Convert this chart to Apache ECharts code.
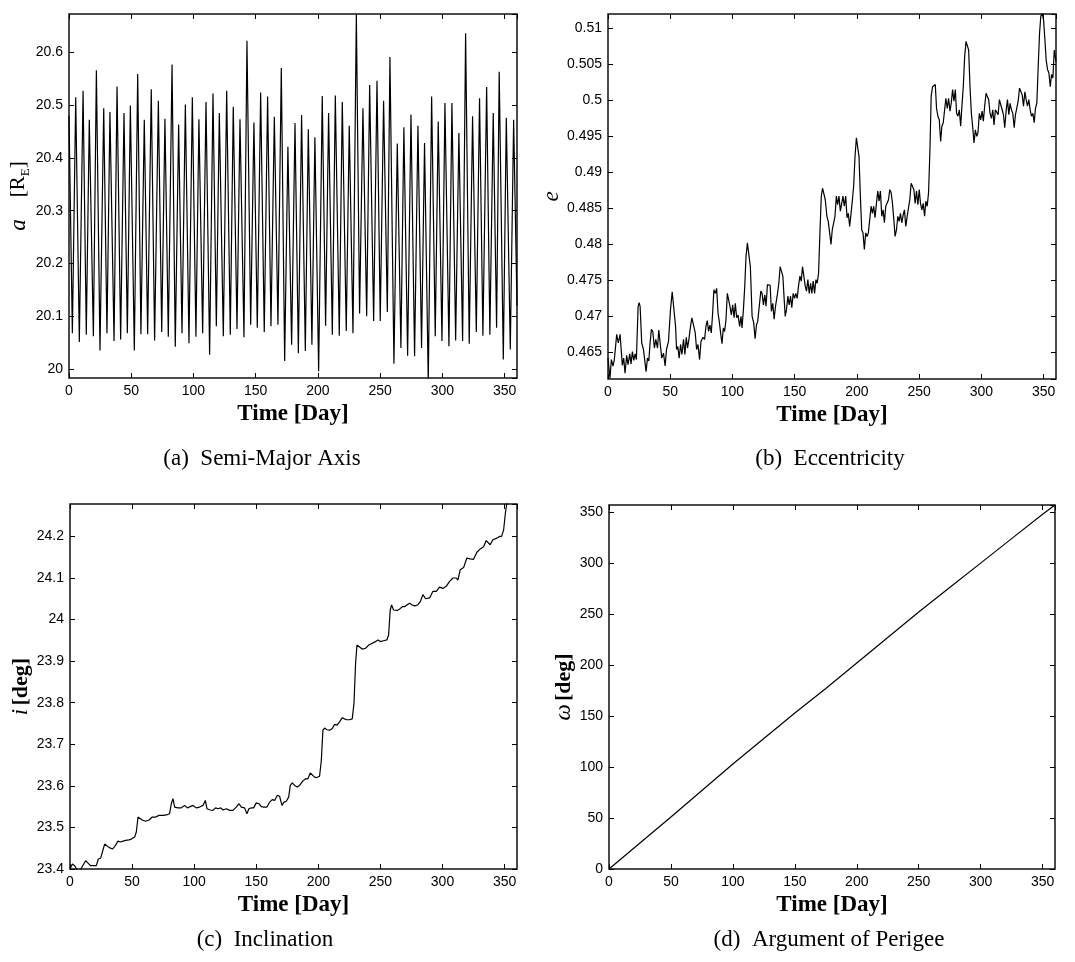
<!DOCTYPE html>
<html>
<head>
<meta charset="utf-8">
<script src="https://cdn.jsdelivr.net/npm/echarts@6/dist/echarts.min.js"></script>
<style>
html,body{margin:0;padding:0;background:#fff}
#chart{width:1075px;height:962px}
</style>
</head>
<body>
<div id="chart"></div>
<script>
// ---- (a) semi-major axis: successive maxima and minima of the oscillation ----
const aStart = [0, 20.48];
const aEnd = [360, 20.12];
const aPeakDay = [5.4, 11.3, 16.3, 22.0, 27.9, 32.9, 38.6, 44.2, 49.3, 55.2, 60.5, 66.1, 71.8, 77.1, 82.8, 88.1, 93.5, 99.1, 104.4, 110.1,
  115.7, 120.8, 126.7, 132.0, 137.4, 143.0, 148.6, 154.0, 159.6, 165.0, 170.6, 175.9, 181.6, 186.9, 192.3, 197.6, 203.5, 208.6, 214.0, 219.6,
  225.2, 230.9, 236.2, 241.6, 247.5, 252.8, 257.9, 263.8, 269.1, 274.8, 280.4, 285.7, 291.4, 296.7, 302.1, 307.7, 313.3, 318.7, 324.3, 329.9,
  335.6, 340.9, 345.7, 351.4, 357.3];
const aPeakVal = [20.515, 20.527, 20.472, 20.566, 20.494, 20.487, 20.535, 20.485, 20.499, 20.559,
  20.472, 20.530, 20.508, 20.474, 20.577, 20.463, 20.501, 20.515, 20.473, 20.506,
  20.522, 20.485, 20.527, 20.497, 20.473, 20.622, 20.467, 20.524, 20.516, 20.478,
  20.570, 20.421, 20.466, 20.481, 20.454, 20.439, 20.517, 20.485, 20.518, 20.506,
  20.461, 20.672, 20.494, 20.538, 20.546, 20.508, 20.591, 20.427, 20.458, 20.482,
  20.461, 20.428, 20.516, 20.469, 20.504, 20.504, 20.447, 20.636, 20.479, 20.513,
  20.534, 20.485, 20.563, 20.476, 20.472];
const aTroughDay = [2.7, 8.3, 13.9, 19.6, 24.9, 30.5, 36.2, 41.5, 46.9, 52.5, 57.8, 63.2, 68.8, 74.5, 79.8, 85.4, 90.8, 96.4, 102.0, 107.4,
  113.0, 118.4, 124.0, 129.6, 135.0, 140.6, 146.0, 151.3, 156.9, 162.3, 167.9, 173.3, 178.9, 184.3, 189.9, 195.2, 200.6, 206.2, 211.6, 217.2,
  222.8, 228.2, 233.5, 239.2, 244.8, 250.1, 255.8, 261.1, 266.7, 272.1, 277.7, 283.3, 288.7, 294.3, 299.7, 305.3, 310.7, 316.3, 321.6, 327.3,
  332.6, 338.2, 343.6, 349.0, 354.6];
const aTroughVal = [20.068, 20.051, 20.065, 20.062, 20.035, 20.068, 20.053, 20.056, 20.068, 20.035,
  20.066, 20.066, 20.054, 20.070, 20.061, 20.042, 20.068, 20.049, 20.061, 20.068,
  20.027, 20.081, 20.062, 20.065, 20.076, 20.060, 20.084, 20.078, 20.070, 20.081,
  20.084, 20.015, 20.046, 20.030, 20.034, 20.046, 19.996, 20.082, 20.065, 20.063,
  20.072, 20.068, 20.105, 20.100, 20.091, 20.091, 20.108, 20.010, 20.040, 20.025,
  20.024, 20.040, 19.975, 20.062, 20.053, 20.043, 20.054, 20.053, 20.048, 20.070,
  20.063, 20.065, 20.078, 20.018, 20.037];

// ---- (b) eccentricity ----
const eDay = [0, 1.6, 2.7, 4.0, 5.1, 7.0, 8.3, 9.7, 11.5, 12.6, 13.7, 15.0, 16.1, 17.5, 18.5, 19.6, 20.7, 21.8, 22.8, 24.2,
  25.0, 25.8, 27.1, 28.5, 29.8, 30.6, 31.7, 32.8, 33.8, 34.9, 36.0, 37.3, 38.4, 39.8, 40.8, 41.9, 43.2, 44.6, 45.9, 47.0,
  48.6, 50.2, 51.6, 52.9, 54.3, 55.1, 56.1, 57.2, 58.3, 59.4, 60.7, 61.8, 62.9, 63.9, 65.0, 66.3, 67.4, 68.8, 70.1, 71.2,
  72.3, 73.6, 74.7, 76.3, 77.6, 78.7, 79.8, 80.8, 81.9, 83.0, 84.1, 85.1, 86.2, 87.3, 88.4, 89.4, 90.5, 91.6, 92.7, 93.7,
  94.8, 95.9, 97.0, 98.0, 99.1, 100.2, 101.3, 102.3, 103.4, 104.5, 105.8, 106.9, 107.7, 108.8, 109.9, 110.9, 112.0, 113.3, 114.4, 115.8,
  117.1, 118.2, 119.3, 120.3, 121.7, 122.8, 123.8, 124.9, 126.0, 127.0, 128.1, 129.2, 130.3, 131.3, 132.4, 133.5, 134.6, 135.9, 137.3, 138.3,
  139.4, 140.5, 141.6, 142.4, 143.4, 144.5, 145.6, 146.7, 147.7, 148.8, 149.9, 150.9, 152.0, 153.1, 154.2, 155.3, 156.3, 157.4, 158.5, 159.5,
  160.6, 161.7, 162.8, 163.8, 164.9, 166.0, 167.1, 168.1, 169.2, 170.3, 171.4, 172.4, 173.5, 174.6, 175.9, 177.0, 178.1, 179.2, 180.2, 181.3,
  182.4, 183.5, 184.5, 185.6, 186.7, 187.8, 188.8, 189.9, 191.0, 192.1, 193.1, 194.2, 195.3, 196.3, 197.4, 198.5, 199.6, 200.6, 201.7, 202.8,
  203.9, 204.9, 206.0, 207.1, 208.2, 209.2, 210.3, 211.4, 212.5, 213.5, 214.6, 215.7, 216.8, 217.8, 218.9, 220.0, 221.1, 222.1, 223.2, 224.3,
  225.4, 226.4, 227.5, 228.6, 229.7, 230.7, 231.8, 232.9, 234.0, 235.0, 236.1, 237.2, 238.2, 239.3, 240.4, 241.5, 242.5, 243.6, 244.7, 245.8,
  246.8, 247.9, 249.0, 250.1, 251.1, 252.2, 253.3, 254.4, 255.4, 256.5, 257.6, 258.7, 259.7, 260.8, 261.9, 263.0, 264.0, 265.1, 266.2, 267.3,
  268.3, 269.4, 270.5, 271.5, 272.6, 273.7, 274.8, 275.8, 276.9, 278.0, 279.1, 280.1, 281.2, 282.3, 283.4, 284.4, 285.5, 286.6, 287.7, 288.7,
  289.8, 290.9, 292.0, 293.0, 294.1, 295.2, 296.3, 297.3, 298.4, 299.5, 300.6, 301.6, 302.7, 303.8, 304.9, 305.9, 307.0, 308.1, 309.2, 310.2,
  311.3, 312.4, 313.5, 314.5, 315.6, 316.7, 317.8, 318.8, 319.9, 321.0, 322.1, 323.1, 324.2, 325.3, 326.4, 327.4, 328.5, 329.6, 330.7, 331.7,
  332.8, 333.9, 335.0, 336.0, 337.1, 338.2, 339.2, 340.3, 341.4, 342.5, 343.5, 344.6, 345.7, 346.8, 347.8, 348.9, 350.0, 351.1, 352.1, 353.2,
  354.3, 355.4, 356.4, 357.5, 358.6, 359.6, 360];
const eVal = [.4642, .4614, .4640, .4631, .4640, .4675, .4663, .4675, .4632, .4642, .4621, .4646, .4633, .4648, .4634, .4651, .4639, .4648, .4640, .4714,
  .4719, .4714, .4663, .4654, .4635, .4623, .4642, .4638, .4663, .4682, .4679, .4656, .4668, .4656, .4681, .4681, .4642, .4649, .4631, .4654,
  .4665, .4709, .4734, .4732, .4686, .4654, .4658, .4642, .4661, .4647, .4668, .4647, .4671, .4656, .4668, .4686, .4698, .4698, .4677, .4654,
  .4661, .4640, .4665, .4671, .4668, .4686, .4694, .4679, .4688, .4677, .4705, .4737, .4732, .4739, .4705, .4693, .4677, .4662, .4684, .4679,
  .4695, .4732, .4732, .4714, .4702, .4716, .4698, .4718, .4698, .4702, .4686, .4700, .4684, .4709, .4742, .4783, .4802, .4802, .4769, .4700,
  .4691, .4669, .4688, .4693, .4693, .4735, .4732, .4716, .4730, .4714, .4744, .4746, .4743, .4707, .4718, .4696, .4714, .4728, .4746, .4769,
  .4771, .4756, .4723, .4700, .4709, .4728, .4716, .4728, .4712, .4732, .4725, .4732, .4725, .4742, .4756, .4749, .4769, .4769, .4742, .4735,
  .4751, .4732, .4746, .4732, .4749, .4732, .4751, .4746, .4760, .4816, .4867, .4878, .4878, .4862, .4839, .4832, .4816, .4800, .4820, .4818,
  .4839, .4867, .4855, .4867, .4846, .4857, .4867, .4853, .4867, .4837, .4843, .4825, .4843, .4860, .4881, .4922, .4948, .4948, .4922, .4867,
  .4820, .4816, .4793, .4816, .4811, .4816, .4834, .4853, .4843, .4853, .4837, .4857, .4874, .4860, .4874, .4839, .4848, .4830, .4853, .4853,
  .4862, .4876, .4872, .4857, .4834, .4811, .4820, .4839, .4832, .4843, .4830, .4841, .4848, .4825, .4839, .4837, .4862, .4885, .4883, .4876,
  .4857, .4874, .4855, .4876, .4857, .4848, .4857, .4839, .4860, .4853, .4872, .4931, .5006, .5019, .5019, .5022, .4989, .4978, .4973, .4943,
  .4964, .4969, .4987, .5003, .4989, .5003, .4985, .4996, .5015, .4999, .5015, .4982, .4978, .4987, .4964, .4992, .5019, .5061, .5082, .5082,
  .5070, .5019, .4982, .4964, .4941, .4959, .4950, .4955, .4982, .4973, .4985, .4971, .4992, .5010, .5012, .5001, .4982, .4975, .4987, .4966,
  .4987, .4989, .4980, .5001, .5003, .4987, .4980, .4962, .4985, .5001, .4980, .4996, .4987, .4982, .4962, .4980, .4980, .4999, .5017, .5019,
  .5008, .4992, .5012, .5001, .4992, .5001, .4987, .4978, .4982, .4969, .4989, .4996, .5047, .5094, .5117, .5121, .5112, .5084, .5056, .5043,
  .5038, .5019, .5036, .5031, .5070, .5070, .5054];

// ---- (c) inclination [deg] ----
const iDay = [0, 1.9, 3.8, 5.6, 7.8, 9.9, 12.6, 14.5, 16.6, 19.3, 21.2, 22.8, 24.7, 26.0, 27.9, 29.3, 31.4, 34.1, 36.0, 38.6,
  40.5, 42.7, 44.8, 47.5, 49.4, 52.1, 53.4, 54.8, 56.1, 58.2, 60.9, 63.6, 66.3, 69.0, 71.7, 74.9, 77.6, 80.2, 81.6, 82.9,
  84.3, 86.9, 89.6, 92.3, 94.5, 96.9, 99.0, 101.7, 104.4, 107.1, 109.0, 110.3, 113.0, 115.1, 117.3, 119.2, 121.3, 123.2, 125.9, 128.6,
  131.2, 133.9, 136.1, 138.0, 140.6, 142.5, 144.1, 146.0, 147.9, 150.0, 152.2, 154.0, 156.2, 158.6, 160.8, 162.9, 164.8, 166.9, 168.8, 170.7,
  172.3, 174.2, 176.1, 177.4, 179.0, 180.9, 183.0, 184.9, 187.6, 189.7, 191.6, 193.5, 195.1, 197.0, 198.9, 201.0, 202.4, 203.7, 205.0, 206.9,
  209.1, 211.2, 213.1, 215.0, 217.1, 219.3, 221.1, 223.0, 225.2, 227.3, 228.7, 230.0, 231.1, 232.7, 235.4, 238.1, 240.7, 243.4, 246.1, 248.0,
  250.1, 252.5, 255.2, 256.6, 257.9, 259.0, 260.6, 263.3, 265.4, 267.6, 269.5, 271.3, 273.5, 275.6, 277.8, 279.9, 282.1, 284.2, 286.4, 289.6,
  292.3, 295.0, 297.6, 300.3, 303.0, 305.7, 308.4, 311.1, 312.4, 314.3, 317.0, 319.6, 322.3, 325.0, 327.7, 330.4, 333.1, 335.2, 336.8, 338.4,
  340.6, 343.8, 345.9, 347.6, 349.2, 350.8, 352.4, 360];
const iVal = [23.400, 23.412, 23.408, 23.398, 23.394, 23.406, 23.420, 23.414, 23.408, 23.408, 23.408, 23.424, 23.426, 23.428, 23.460, 23.462, 23.452, 23.448, 23.454, 23.467,
  23.465, 23.467, 23.469, 23.470, 23.472, 23.477, 23.489, 23.525, 23.525, 23.518, 23.515, 23.518, 23.525, 23.525, 23.529, 23.529, 23.530, 23.533, 23.557, 23.569,
  23.549, 23.547, 23.547, 23.553, 23.547, 23.550, 23.553, 23.547, 23.549, 23.553, 23.565, 23.545, 23.542, 23.541, 23.547, 23.545, 23.547, 23.542, 23.545, 23.541,
  23.541, 23.549, 23.557, 23.549, 23.547, 23.533, 23.545, 23.547, 23.547, 23.559, 23.557, 23.550, 23.549, 23.549, 23.561, 23.567, 23.565, 23.577, 23.575, 23.553,
  23.561, 23.563, 23.573, 23.601, 23.607, 23.601, 23.597, 23.601, 23.612, 23.617, 23.617, 23.631, 23.633, 23.621, 23.620, 23.623, 23.661, 23.734, 23.739, 23.735,
  23.734, 23.738, 23.748, 23.746, 23.754, 23.764, 23.761, 23.759, 23.759, 23.761, 23.798, 23.895, 23.939, 23.935, 23.929, 23.931, 23.939, 23.943, 23.947, 23.951,
  23.947, 23.949, 23.951, 23.963, 24.023, 24.035, 24.023, 24.022, 24.025, 24.031, 24.031, 24.035, 24.039, 24.035, 24.033, 24.035, 24.043, 24.060, 24.050, 24.052,
  24.068, 24.068, 24.078, 24.075, 24.080, 24.092, 24.100, 24.100, 24.095, 24.120, 24.125, 24.148, 24.146, 24.145, 24.162, 24.170, 24.175, 24.190, 24.190, 24.180,
  24.192, 24.196, 24.200, 24.200, 24.215, 24.260, 24.290, 24.330];

// ---- (d) argument of perigee [deg] ----
const wDay = [0, 25, 50, 75, 100, 125, 150, 175, 200, 225, 250, 275, 300, 325, 350, 360];
const wVal = [0, 25.5, 51, 77, 103, 128, 153, 177, 202, 227, 252, 276, 300, 324, 348, 357];

const xTicks = { min: 0, max: 360, interval: 50 };
const captions = ['(a)\u00a0 Semi-Major Axis', '(b)\u00a0 Eccentricity', '(c)\u00a0 Inclination', '(d)\u00a0 Argument of Perigee'];

// merge extrema of (a) in time order
const aSeries = [aStart];
for (let k = 0; k < aTroughDay.length; k++) {
  aSeries.push([aTroughDay[k], aTroughVal[k]]);
  aSeries.push([aPeakDay[k], aPeakVal[k]]);
}
aSeries.push(aEnd);
const zip = (xs, ys) => xs.map((x, k) => [x, ys[k]]);

const SANS = 'Liberation Sans';
const SERIF = 'Liberation Serif';

const grids = [
  { left: 69, top: 14, width: 448, height: 364 },
  { left: 608, top: 14, width: 448, height: 365 },
  { left: 70, top: 504, width: 447, height: 365 },
  { left: 609, top: 505, width: 446, height: 364 }
].map(g => Object.assign(g, { show: true, borderColor: '#111', borderWidth: 1.5, backgroundColor: '#fff' }));

// ticks point into the plot box (negative length flips them toward the inside)
const makeTick = () => ({ show: true, inside: false, length: -5, lineStyle: { color: '#000', width: 1 } });
const makeLabel = extra => Object.assign({ fontFamily: SANS, fontSize: 14, color: '#000', margin: 6 }, extra);

const xAxis = [], yAxis = [];
const yConf = [
  { min: 19.983, max: 20.6725, splitNumber: 7, showMin: false, gap: 37,
    name: '{v|a}{t|[R}{sub|E}{t|]}' },
  { min: 0.4613, max: 0.5120, splitNumber: 10, showMin: false, gap: 45,
    name: '{v|e}' },
  { min: 23.4, max: 24.278, interval: 0.1, showMin: true, gap: 35,
    name: '{v|i} {b|[deg]}' },
  { min: 0, max: 357, interval: 50, showMin: true, gap: 33,
    name: '{v|\u03c9} {b|[deg]}' }
];
const makeRich = gi => ({
  v: { fontFamily: SERIF, fontStyle: 'italic', fontSize: 23, color: '#000', padding: gi === 0 ? [0, 22, 0, 0] : 0 },
  t: { fontFamily: SERIF, fontSize: 21, color: '#000', lineHeight: 26 },
  sub: { fontFamily: SERIF, fontSize: 13, color: '#000', lineHeight: 14, verticalAlign: 'bottom' },
  b: { fontFamily: SERIF, fontWeight: 'bold', fontSize: 22, color: '#000' }
});

grids.forEach((g, gi) => {
  xAxis.push({
    type: 'value', gridIndex: gi, position: 'bottom', ...xTicks,
    axisLine: { show: false, onZero: false }, axisTick: makeTick(), splitLine: { show: false },
    axisLabel: makeLabel({ showMaxLabel: false }),
    name: 'Time [Day]', nameLocation: 'middle', nameGap: 25,
    nameTextStyle: { fontFamily: SERIF, fontWeight: 'bold', fontSize: 23, color: '#000' }
  });
  xAxis.push({
    type: 'value', gridIndex: gi, position: 'top', ...xTicks,
    axisLine: { show: false, onZero: false }, axisTick: makeTick(), splitLine: { show: false },
    axisLabel: { show: false }
  });
  const c = yConf[gi];
  const base = { type: 'value', gridIndex: gi, min: c.min, max: c.max };
  if (c.interval) base.interval = c.interval; else base.splitNumber = c.splitNumber;
  yAxis.push(Object.assign({}, base, {
    position: 'left', axisLine: { show: false, onZero: false }, axisTick: makeTick(), splitLine: { show: false },
    axisLabel: makeLabel({ showMinLabel: c.showMin, showMaxLabel: false }),
    name: c.name, nameLocation: 'middle', nameGap: c.gap, nameRotate: 90,
    nameTextStyle: { color: '#000', rich: makeRich(gi) }
  }));
  yAxis.push(Object.assign({}, base, {
    position: 'right', axisLine: { show: false, onZero: false }, axisTick: makeTick(), splitLine: { show: false },
    axisLabel: { show: false }
  }));
});

const lineSeries = (data, gi) => ({
  type: 'line', data, xAxisIndex: 2 * gi, yAxisIndex: 2 * gi,
  showSymbol: false, symbol: 'none', clip: true,
  lineStyle: { color: '#000', width: 1.2 }, silent: true
});

const captionPos = [[262, 459], [830, 459], [265, 940], [829, 940]];
const graphic = captions.map((t, k) => ({
  type: 'text', x: captionPos[k][0], y: captionPos[k][1], silent: true,
  style: { text: t, fill: '#000', font: '23px "Liberation Serif"', align: 'center', verticalAlign: 'middle' }
}));

const chart = echarts.init(document.getElementById('chart'), null, { renderer: 'canvas' });
chart.setOption({
  animation: false,
  backgroundColor: '#fff',
  grid: grids,
  xAxis, yAxis,
  series: [
    lineSeries(aSeries, 0),
    lineSeries(zip(eDay, eVal), 1),
    lineSeries(zip(iDay, iVal), 2),
    lineSeries(zip(wDay, wVal), 3)
  ],
  graphic
});
</script>
</body>
</html>
